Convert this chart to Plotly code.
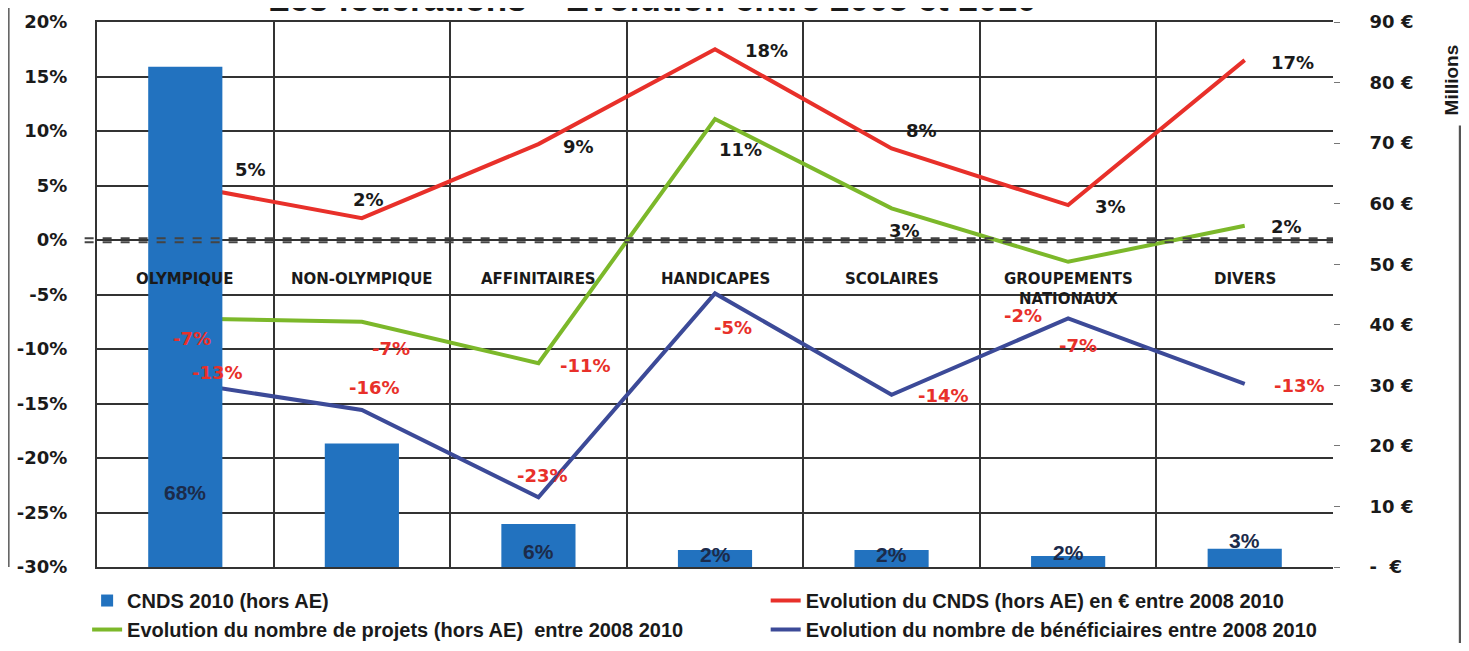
import plotly.graph_objects as go

categories = ["OLYMPIQUE", "NON-OLYMPIQUE", "AFFINITAIRES", "HANDICAPES",
              "SCOLAIRES", "GROUPEMENTS", "DIVERS"]
cat_labels = ["OLYMPIQUE", "NON-OLYMPIQUE", "AFFINITAIRES", "HANDICAPES",
              "SCOLAIRES", "GROUPEMENTS<br>NATIONAUX", "DIVERS"]

# CNDS 2010 (millions of euros) and share labels
cnds_2010 = [82.6, 20.4, 7.1, 2.8, 2.8, 1.8, 3.0]
cnds_share = ["68%", "17%", "6%", "2%", "2%", "2%", "3%"]

# evolutions 2008-2010 (%)
evo_cnds = [5.0, 2.0, 8.8, 17.5, 8.4, 3.2, 16.5]
evo_cnds_lbl = ["5%", "2%", "9%", "18%", "8%", "3%", "17%"]
evo_projets = [-7.2, -7.5, -11.3, 11.1, 2.9, -2.0, 1.3]
evo_projets_lbl = ["-7%", "-7%", "-11%", "11%", "3%", "-2%", "2%"]
evo_benef = [-13.1, -15.6, -23.6, -4.9, -14.2, -7.2, -13.2]
evo_benef_lbl = ["-13%", "-16%", "-23%", "-5%", "-14%", "-7%", "-13%"]

left_ticks = [20, 15, 10, 5, 0, -5, -10, -15, -20, -25, -30]
right_ticks = [0, 10, 20, 30, 40, 50, 60, 70, 80, 90]

RED = "#e8302a"
GREEN = "#7cb82a"
NAVY = "#3c4a98"
BLUE = "#2272bf"
INK = "#1a1a1a"

fig = go.Figure()
fig.add_trace(go.Bar(x=categories, y=cnds_2010, name="<b>CNDS 2010 (hors AE)</b>",
                     marker=dict(color=BLUE, line=dict(width=0)), width=0.42, yaxis="y2",
                     legend="legend"))
fig.add_trace(go.Scatter(x=categories, y=evo_cnds, mode="lines",
                         name="<b>Evolution du CNDS (hors AE) en € entre 2008 2010</b>",
                         line=dict(color=RED, width=4), legend="legend2"))
fig.add_trace(go.Scatter(x=categories, y=evo_projets, mode="lines",
                         name="<b>Evolution du nombre de projets (hors AE)  entre 2008 2010</b>",
                         line=dict(color=GREEN, width=4), legend="legend"))
fig.add_trace(go.Scatter(x=categories, y=evo_benef, mode="lines",
                         name="<b>Evolution du nombre de bénéficiaires entre 2008 2010</b>",
                         line=dict(color=NAVY, width=4), legend="legend2"))

lbl_font = dict(family="DejaVu Sans", size=18, color=INK)
red_font = dict(family="DejaVu Sans", size=18, color=RED)

# label offsets (px) relative to each point
cnds_off = [(65, 16), (7, 19), (40, -2), (51, -1), (30, 18), (42, -1), (48, -2)]
proj_off = [(7, -20), (29, -27), (47, -2), (25, -30), (13, -22), (-45, -54), (42, -1)]
benef_off = [(32, 10), (13, 23), (4, 22), (18, -34), (52, -1), (10, -27), (55, -2)]
proj_colors = [red_font, red_font, red_font, lbl_font, lbl_font, red_font, lbl_font]

anns = []
for i, c in enumerate(categories):
    anns.append(dict(x=c, y=evo_cnds[i], text="<b>%s</b>" % evo_cnds_lbl[i], showarrow=False,
                     xshift=cnds_off[i][0], yshift=cnds_off[i][1], font=lbl_font))
    anns.append(dict(x=c, y=evo_projets[i], text="<b>%s</b>" % evo_projets_lbl[i], showarrow=False,
                     xshift=proj_off[i][0], yshift=proj_off[i][1], font=proj_colors[i]))
    anns.append(dict(x=c, y=evo_benef[i], text="<b>%s</b>" % evo_benef_lbl[i], showarrow=False,
                     xshift=benef_off[i][0], yshift=benef_off[i][1], font=red_font))
    anns.append(dict(x=c, y=0.549, yref="paper", yanchor="top", text="<b>%s</b>" % cat_labels[i],
                     showarrow=False, font=dict(family="DejaVu Sans", size=15, color=INK)))

# bar share labels (17% is hidden behind its bar in the original)
bar_shift = [75, None, 16, 13, 13, 15, 27]
for i, c in enumerate(categories):
    if bar_shift[i] is None:
        continue
    anns.append(dict(x=c, y=0, yref="y2", text="<b>%s</b>" % cnds_share[i], showarrow=False,
                     yshift=bar_shift[i], font=dict(family="Liberation Sans", size=21, color="#1c2b4a")))

# title is mostly cut off at the top of the original picture
anns.append(dict(x=0.449, y=1, xref="paper", yref="paper", xanchor="center", yanchor="bottom",
                 yshift=2, text="<b>Les fédérations – Evolution entre 2008 et 2010</b>",
                 showarrow=False, font=dict(family="Liberation Sans", size=35, color=INK)))
anns.append(dict(x=1.096, y=0.894, xref="paper", yref="paper", xanchor="center", yanchor="middle",
                 text="<b>Millions</b>", textangle=-90, showarrow=False,
                 font=dict(family="Liberation Sans", size=19, color=INK)))

shapes = [
    dict(type="line", xref="paper", yref="y", x0=-0.01, x1=1, y0=0.15, y1=0.15,
         line=dict(color="#444", width=2, dash="dash")),
    dict(type="line", xref="paper", yref="y", x0=-0.01, x1=1, y0=-0.2, y1=-0.2,
         line=dict(color="#444", width=2, dash="dash")),
    dict(type="line", xref="paper", yref="paper", x0=1.103, x1=1.103, y0=0.81, y1=-0.2,
         line=dict(color="#555", width=3)),
    dict(type="line", xref="paper", yref="paper", x0=-0.0715, x1=-0.0715, y0=1.05, y1=0.0,
         line=dict(color="#666", width=2)),
]

legend_font = dict(family="Liberation Sans", size=20, color=INK)

fig.update_layout(
    width=1453, height=635,
    margin=dict(l=89, r=128, t=12, b=76),
    paper_bgcolor="white", plot_bgcolor="white",
    font=dict(family="DejaVu Sans", color=INK),
    annotations=anns, shapes=shapes,
    legend=dict(x=-0.008, y=0.0976, xref="paper", yref="container", xanchor="left",
                yanchor="top", traceorder="normal", font=legend_font, bgcolor="rgba(0,0,0,0)"),
    legend2=dict(x=0.541, y=0.0976, xref="paper", yref="container", xanchor="left",
                 yanchor="top", traceorder="normal", font=legend_font, bgcolor="rgba(0,0,0,0)"),
    xaxis=dict(type="category", tickson="boundaries", showgrid=True, gridcolor="#333",
               gridwidth=1.5, showticklabels=False, ticks="", showline=True,
               linecolor="#333", linewidth=2, mirror=True),
    yaxis=dict(range=[-30, 20], tickvals=left_ticks,
               ticktext=["<b>%d%%</b>" % v for v in left_ticks], showgrid=True, gridcolor="#333",
               gridwidth=1.5, zeroline=False, showline=True, linecolor="#333", linewidth=2,
               tickfont=dict(family="DejaVu Sans", size=18, color=INK), ticklabelstandoff=24,
               automargin=False),
    yaxis2=dict(range=[0, 90], overlaying="y", side="right", showgrid=False, zeroline=False,
                tickvals=right_ticks,
                ticktext=["<b>-  €</b>"] + ["<b>%d €</b>" % v for v in right_ticks[1:]],
                ticks="outside", ticklen=6, tickcolor="#777",
                tickfont=dict(family="DejaVu Sans", size=18, color=INK), ticklabelstandoff=26,
                automargin=False),
)

fig.write_html("out.html")
